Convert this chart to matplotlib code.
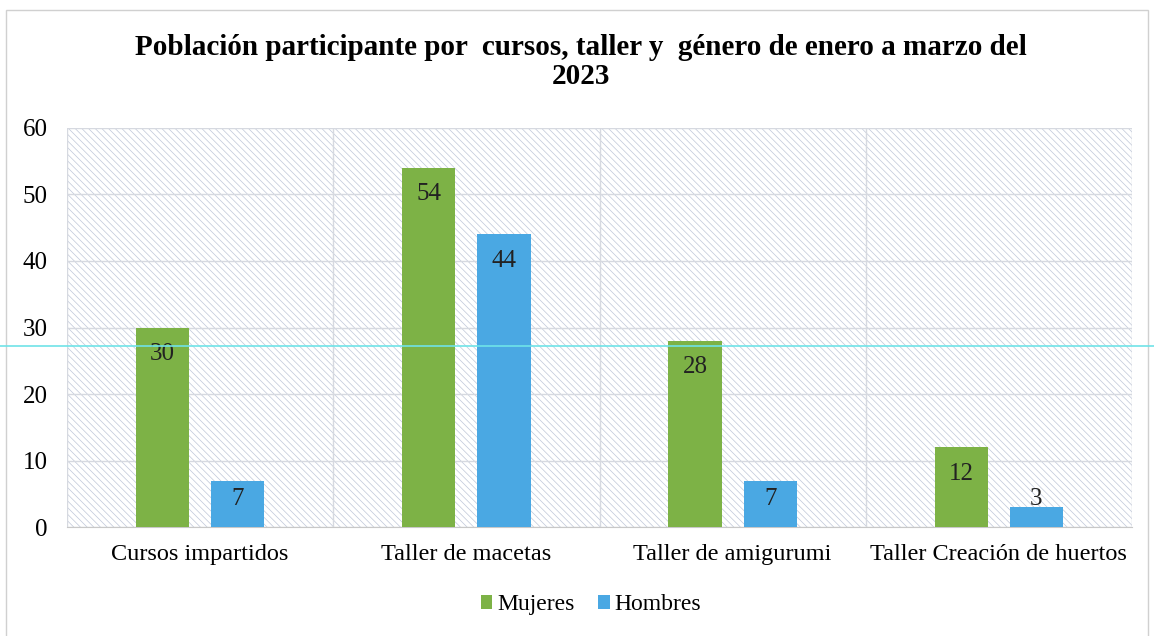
import matplotlib
matplotlib.use('Agg')
import matplotlib.pyplot as plt
from matplotlib.patches import Rectangle
from matplotlib.lines import Line2D
import numpy as np

categorias = ['Cursos impartidos', 'Taller de macetas', 'Taller de amigurumi', 'Taller Creación de huertos']
mujeres = [30, 54, 28, 12]
hombres = [7, 44, 7, 3]
series = ['Mujeres', 'Hombres']
titulo = 'Población participante por  cursos, taller y  género de enero a marzo del\n2023'

plt.rcParams['font.family'] = ['Liberation Serif', 'DejaVu Serif']
plt.rcParams['hatch.linewidth'] = 0.5

verde = '#7db246'
azul = '#4aa8e3'

fig = plt.figure(figsize=(11.54, 6.36), dpi=100)
fig.patch.set_facecolor('white')
ax = fig.add_axes([0.058, 0.171, 0.923, 0.628])

# fondo rayado del area de trazado
fondo = Rectangle((0, 0), 1, 1, transform=ax.transAxes, facecolor='white',
                  edgecolor='#bfc7d8', hatch='\\\\\\\\\\', lw=0, zorder=0)
ax.add_patch(fondo)
ax.patch.set_visible(False)

x = np.arange(len(categorias))
w = 0.2
off = 0.141
b1 = ax.bar(x - off, mujeres, w, color=verde, label=series[0], zorder=3)
b2 = ax.bar(x + off, hombres, w, color=azul, label=series[1], zorder=3)

for bars, vals in ((b1, mujeres), (b2, hombres)):
    for b, v in zip(bars, vals):
        ax.text(b.get_x() + b.get_width() / 2, max(v - 4.0, 4.2), str(v), ha='center',
                va='center', fontsize=18, color='#222222', zorder=4)

ax.set_xlim(-0.5, len(categorias) - 0.5)
ax.set_ylim(0, 60)
ax.set_yticks(range(0, 61, 10))
ax.set_xticks(x)
ax.set_xticklabels(categorias, fontsize=17.5)
ax.tick_params(axis='y', labelsize=18, length=0, pad=14)
ax.tick_params(axis='x', length=0, pad=12)
ax.set_xticks(np.arange(-0.5, len(categorias), 1), minor=True)
ax.tick_params(axis='x', which='minor', length=0)

ax.grid(axis='y', color='#d6d9e0', lw=1, zorder=1)
ax.grid(axis='x', which='minor', color='#d6d9e0', lw=1, zorder=1)
ax.grid(axis='x', which='major', visible=False)
for s in ['top', 'right', 'left']:
    ax.spines[s].set_visible(False)
ax.spines['bottom'].set_color('#c8c8c8')

fig.text(0.503, 0.903, titulo, ha='center', va='center', fontsize=21,
         fontweight='bold', linespacing=1.08)

fig.legend(handles=[b1, b2], labels=series, loc='center', bbox_to_anchor=(0.512, 0.049),
           ncol=2, frameon=False, fontsize=17, handlelength=0.5, handleheight=0.5,
           handletextpad=0.2, columnspacing=1.0)

# borde exterior del grafico
fig.add_artist(Rectangle((0.005, -0.01), 0.99, 0.995, transform=fig.transFigure,
                         fill=False, edgecolor='#d0d0d0', lw=1))
# linea cian del escaneo
fig.add_artist(Line2D([0, 1], [1 - 346 / 636] * 2, transform=fig.transFigure,
                      color='#6fe3e8', lw=1.2))

fig.savefig('out.png', dpi=100)
